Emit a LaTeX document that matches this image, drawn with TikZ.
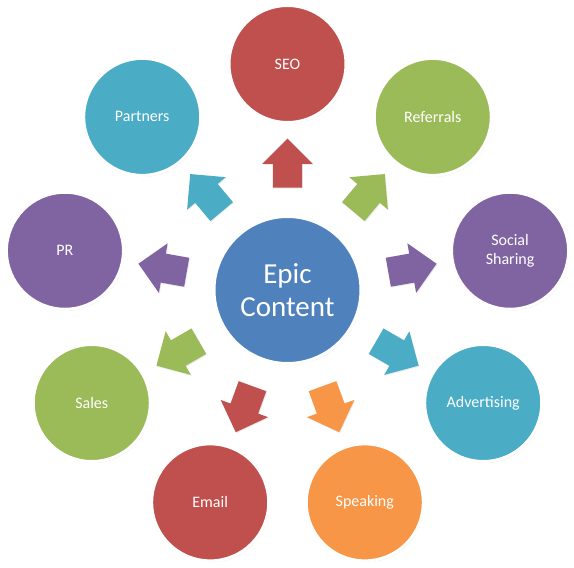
\documentclass[tikz,border=0pt]{standalone}
\usepackage{fontspec}
\setmainfont{Carlito}
\usetikzlibrary{shapes.arrows,shadows}
\definecolor{seored}{HTML}{C0504D}
\definecolor{leafgreen}{HTML}{9BBB59}
\definecolor{plum}{HTML}{8064A2}
\definecolor{aqua}{HTML}{4BACC6}
\definecolor{tangerine}{HTML}{F79646}
\definecolor{hubblue}{HTML}{4F81BD}
\tikzset{
  topic/.style={circle,draw=white,line width=3pt,minimum size=117pt,inner sep=0pt,
    text=white,align=center,font=\fontsize{16}{19}\selectfont,
    drop shadow={opacity=0.18,shadow xshift=1pt,shadow yshift=-1.5pt}},
  hub/.style={topic,minimum size=147pt,font=\fontsize{29}{33}\selectfont},
  push/.style={single arrow,minimum height=49pt,inner xsep=0pt,inner ysep=14.5pt,
    single arrow head extend=10.5pt,single arrow head indent=0pt,
    drop shadow={opacity=0.15,shadow xshift=0.8pt,shadow yshift=-1pt}}
}
\begin{document}
\begin{tikzpicture}
    \useasboundingbox (-287.5pt,-278pt) rectangle (286.5pt,290pt);
    % hub
    \node[hub,fill=hubblue] (epic) at (0,0) {Epic\\Content};
    % topics round the hub
    \node[topic,fill=seored]    (seo)     at (90:226pt)   {SEO};
    \node[topic,fill=leafgreen] (referral) at (50:226pt)  {Referrals};
    \node[topic,fill=plum]      (social)  at (10:226pt)   {Social\\Sharing};
    \node[topic,fill=aqua]      (advert)  at (-30:226pt)  {Advertising};
    \node[topic,fill=tangerine] (speak)   at (-70:226pt)  {Speaking};
    \node[topic,fill=seored]    (email)   at (-110:226pt) {Email};
    \node[topic,fill=leafgreen] (sales)   at (-150:226pt) {Sales};
    \node[topic,fill=plum]      (pr)      at (170:226pt)  {PR};
    \node[topic,fill=aqua]      (partner) at (130:226pt)  {Partners};
    % block arrows
    \node[push,fill=seored,rotate=90]      (a_seo)     at (90:119.5pt)   {};
    \node[push,fill=leafgreen,rotate=50]   (a_referral) at (50:119.5pt)  {};
    \node[push,fill=plum,rotate=10]        (a_social)  at (10:119.5pt)   {};
    \node[push,fill=aqua,rotate=-30]       (a_advert)  at (-30:119.5pt)  {};
    \node[push,fill=tangerine,rotate=-70]  (a_speak)   at (-70:119.5pt)  {};
    \node[push,fill=seored,rotate=-110]    (a_email)   at (-110:119.5pt) {};
    \node[push,fill=leafgreen,rotate=-150] (a_sales)   at (-150:119.5pt) {};
    \node[push,fill=plum,rotate=170]       (a_pr)      at (170:119.5pt)  {};
    \node[push,fill=aqua,rotate=130]       (a_partner) at (130:119.5pt)  {};
\end{tikzpicture}
\end{document}
